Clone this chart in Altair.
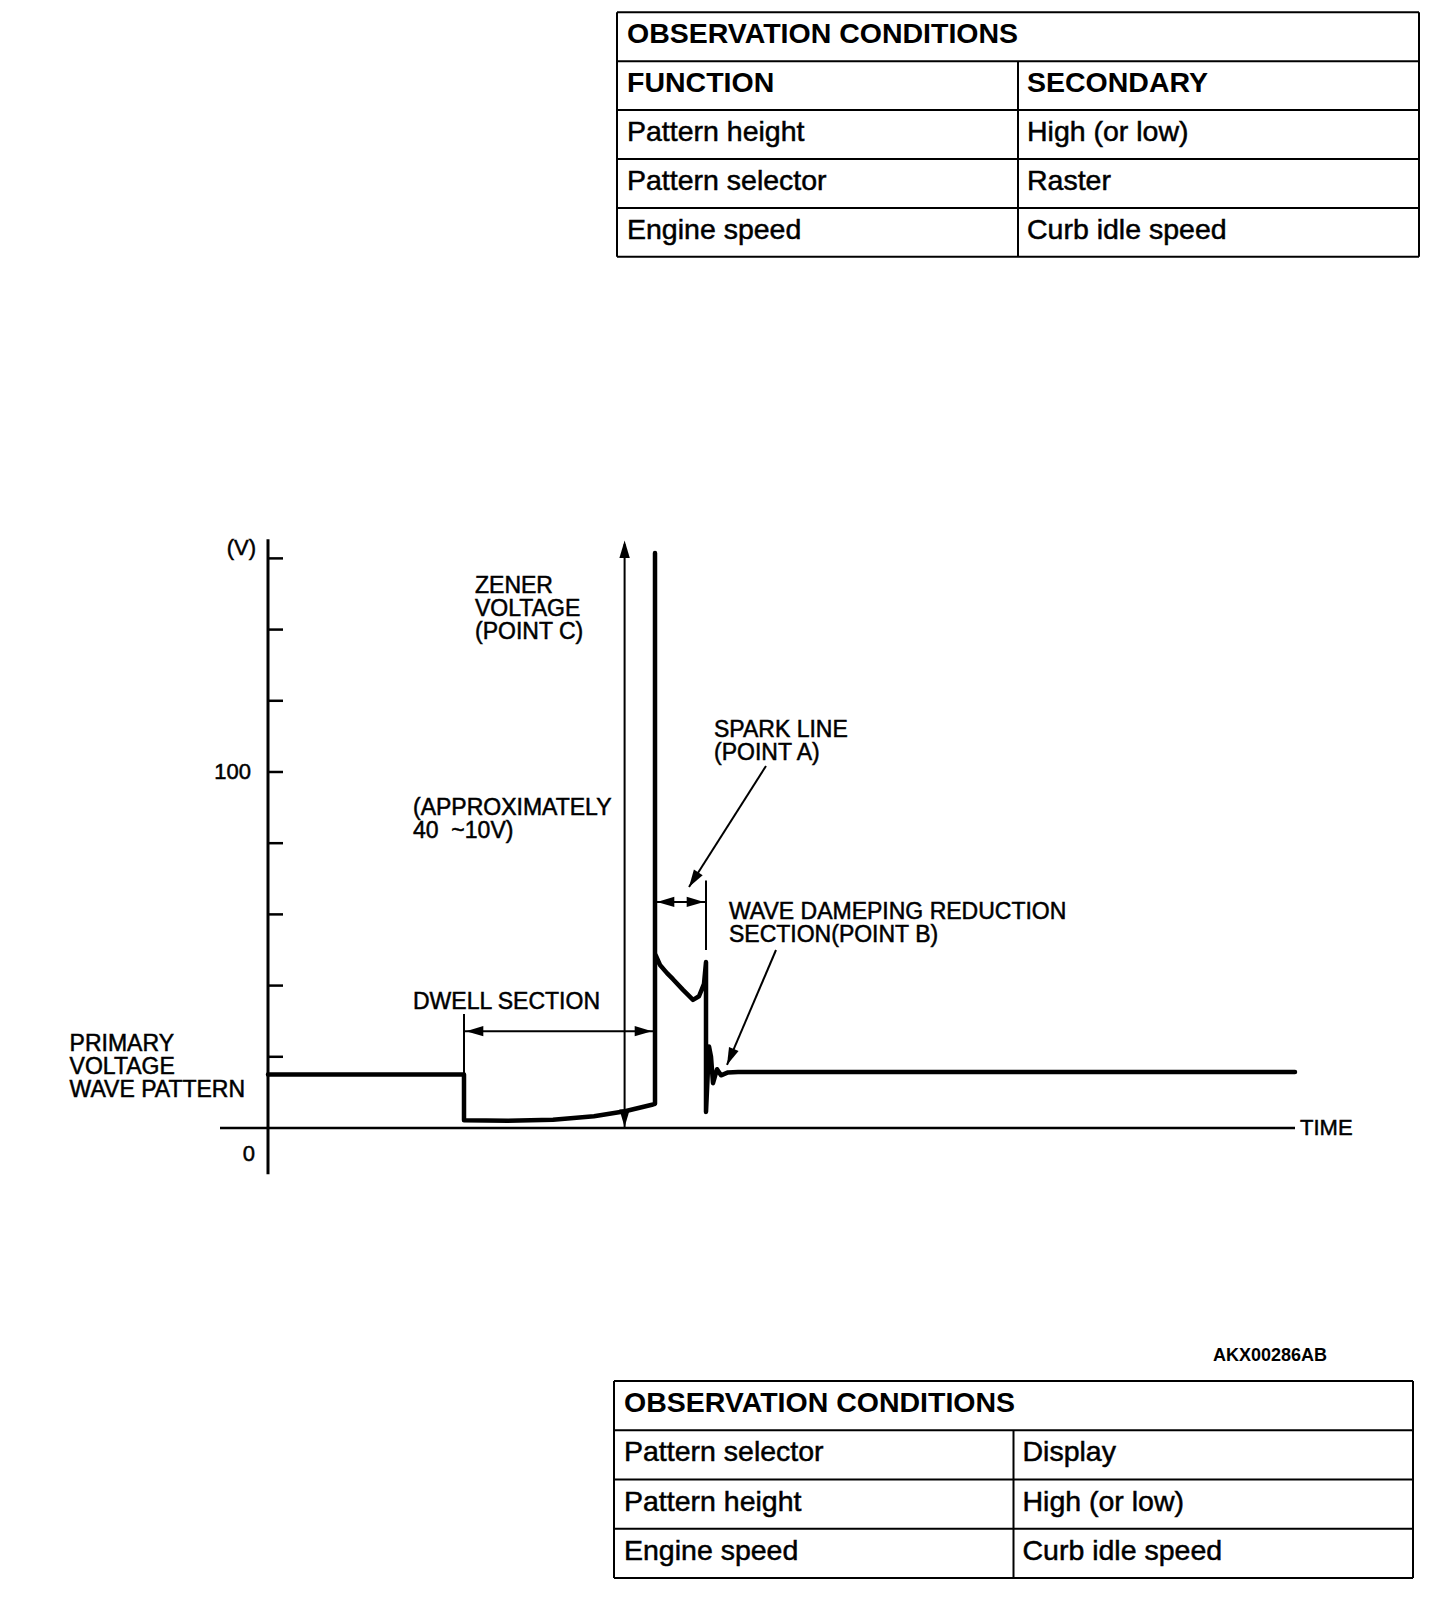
import altair as alt
import numpy as np
import pandas as pd

FONT = "Liberation Sans"

# ---------------- waveform (time in arbitrary units, voltage in V) ----------------
wave_t = [0, 19.6, 19.6, 24.0, 28.5, 32.6, 35.7, 38.5, 38.7, 38.7, 38.7, 39.2, 39.9,
          40.5, 41.5, 42.5, 43.1, 43.6, 43.8, 43.8, 44.1, 44.3, 44.5, 44.9, 45.3,
          46.0, 47.0, 102.7]
wave_v = [15.0, 15.0, 2.2, 2.0, 2.3, 3.3, 4.7, 6.6, 6.8, 161.5, 49.0, 45.8, 43.5,
          41.8, 38.8, 36.0, 37.0, 40.5, 46.6, 4.5, 22.9, 20.0, 12.6, 16.5, 14.8,
          15.6, 15.7, 15.7]

tick_v = [20, 40, 60, 80, 100, 120, 140, 160]

# axis labels (right aligned)
lab_text = ["(V)", "100", "0"]
lab_t = [-1.2, -1.7, -1.3]
lab_v = [163.0, 100.0, -7.3]

# annotation text blocks (top-left anchored)
note_text = ["PRIMARY\nVOLTAGE\nWAVE PATTERN", "ZENER\nVOLTAGE\n(POINT C)",
             "(APPROXIMATELY\n40 \u00a0~10V)", "SPARK LINE\n(POINT A)",
             "WAVE DAMEPING REDUCTION\nSECTION(POINT B)", "DWELL SECTION"]
note_t = [-19.84, 20.7, 14.5, 44.6, 46.1, 14.5]
note_v = [26.7, 155.3, 93.0, 114.9, 63.8, 38.5]

time_label = "TIME"
time_t, time_v = 103.2, 0.0
code_label = "AKX00286AB"
code_t, code_v = 105.9, -64.0

# thin annotation segments
seg_t = [35.66, 19.6, 19.6, 38.7, 43.8, 49.8, 50.8]
seg_t2 = [35.66, 38.5, 19.6, 43.8, 43.8, 42.1, 45.9]
seg_v = [0.0, 27.2, 15.0, 63.5, 50.0, 101.7, 50.0]
seg_v2 = [164.0, 27.2, 32.0, 63.5, 69.5, 67.7, 17.7]

# arrowheads: tip point and a point on the shaft behind it
arr_tip_t = [35.66, 35.66, 19.8, 38.4, 38.9, 43.6, 42.1, 45.9]
arr_tip_v = [165.0, 0.3, 27.2, 27.2, 63.5, 63.5, 67.7, 17.7]
arr_from_t = [35.66, 35.66, 25.0, 30.0, 41.0, 41.0, 49.8, 50.8]
arr_from_v = [100.0, 10.0, 27.2, 27.2, 63.5, 63.5, 101.7, 50.0]

# ---------------- tables ----------------
top_left = ["OBSERVATION CONDITIONS", "FUNCTION", "Pattern height", "Pattern selector", "Engine speed"]
top_right = ["", "SECONDARY", "High (or low)", "Raster", "Curb idle speed"]
top_bold_rows = 2
bot_left = ["OBSERVATION CONDITIONS", "Pattern selector", "Pattern height", "Engine speed"]
bot_right = ["", "Display", "High (or low)", "Curb idle speed"]
bot_bold_rows = 1

# ---------------- layout ----------------
W = 1440
H1, H2, H3 = 292, 1070, 218
T_DOM = [-26.0, 118.0]
V_DOM = [-67.98, 232.58]
PX_T = W / (T_DOM[1] - T_DOM[0])
PX_V = H2 / (V_DOM[1] - V_DOM[0])

X = alt.X("t:Q", scale=alt.Scale(domain=T_DOM, nice=False, zero=False), axis=None)
Y = alt.Y("v:Q", scale=alt.Scale(domain=V_DOM, nice=False, zero=False), axis=None)

wave_df = pd.DataFrame({"t": wave_t, "v": wave_v, "i": range(len(wave_t))})
wave = alt.Chart(wave_df).mark_line(color="black", strokeWidth=4.5, strokeJoin="round",
                                    strokeCap="round").encode(x=X, y=Y, order="i:Q")

axes_df = pd.DataFrame({"t": [0.0, -4.8], "t2": [0.0, 102.7], "v": [-13.0, 0.0], "v2": [165.4, 0.0],
                        "w": [3.0, 2.5]})
axes = alt.Chart(axes_df).mark_rule(color="black").encode(
    x=X, x2="t2:Q", y=Y, y2="v2:Q", strokeWidth=alt.StrokeWidth("w:Q", scale=None))

ticks_df = pd.DataFrame({"t": [0.0] * len(tick_v), "t2": [1.5] * len(tick_v), "v": tick_v})
ticks = alt.Chart(ticks_df).mark_rule(color="black", strokeWidth=2.5).encode(x=X, x2="t2:Q", y=Y)

seg_df = pd.DataFrame({"t": seg_t, "t2": seg_t2, "v": seg_v, "v2": seg_v2})
segs = alt.Chart(seg_df).mark_rule(color="black", strokeWidth=2).encode(x=X, x2="t2:Q", y=Y, y2="v2:Q")

dx = (np.array(arr_tip_t) - np.array(arr_from_t)) * PX_T
dy = -(np.array(arr_tip_v) - np.array(arr_from_v)) * PX_V
ang = (np.degrees(np.arctan2(dx, -dy)) + 360) % 360
arr_df = pd.DataFrame({"t": arr_tip_t, "v": arr_tip_v, "a": ang})
arrows = alt.Chart(arr_df).mark_point(shape="M0,0L0.6,2L-0.6,2Z", filled=True, color="black",
                                      opacity=1, size=300, strokeWidth=0).encode(
    x=X, y=Y, angle=alt.Angle("a:Q", scale=None))

TXT = dict(font=FONT, color="black", stroke="black", strokeWidth=0.5)

lab_df = pd.DataFrame({"t": lab_t, "v": lab_v, "txt": lab_text})
labels = alt.Chart(lab_df).mark_text(align="right", baseline="middle", fontSize=22, **TXT).encode(
    x=X, y=Y, text="txt:N")

note_df = pd.DataFrame({"t": note_t, "v": note_v, "txt": note_text})
notes = alt.Chart(note_df).mark_text(align="left", baseline="top", fontSize=23,
                                     lineHeight=23, lineBreak="\n", **TXT).encode(
    x=X, y=Y, text="txt:N")

time_df = pd.DataFrame({"t": [time_t], "v": [time_v], "txt": [time_label]})
timel = alt.Chart(time_df).mark_text(align="left", baseline="middle", fontSize=22, **TXT).encode(
    x=X, y=Y, text="txt:N")

code_df = pd.DataFrame({"t": [code_t], "v": [code_v], "txt": [code_label]})
codel = alt.Chart(code_df).mark_text(align="right", baseline="middle", font=FONT, fontSize=18,
                                     fontWeight="bold", color="black").encode(x=X, y=Y, text="txt:N")

panel2 = alt.layer(axes, ticks, segs, wave, arrows, labels, notes, timel, codel).properties(
    width=W, height=H2)


def make_table(left, right, n_bold, left_px, right_px, top_px, row_px, height):
    n = len(left)
    span = right_px - left_px
    c_lo = -left_px / span
    c_dom = [c_lo, c_lo + W / span]
    r_lo = -top_px / row_px
    r_dom = [r_lo, r_lo + height / row_px]
    CX = alt.X("c:Q", scale=alt.Scale(domain=c_dom, nice=False, zero=False), axis=None)
    RY = alt.Y("r:Q", scale=alt.Scale(domain=r_dom, nice=False, zero=False, reverse=True), axis=None)
    rows = []
    for r in range(n + 1):
        rows.append({"c": 0.0, "c2": 1.0, "r": r, "r2": r})
    rows.append({"c": 0.0, "c2": 0.0, "r": 0, "r2": n})
    rows.append({"c": 1.0, "c2": 1.0, "r": 0, "r2": n})
    rows.append({"c": 0.5, "c2": 0.5, "r": 1, "r2": n})
    lines = alt.Chart(pd.DataFrame(rows)).mark_rule(color="black", strokeWidth=2).encode(
        x=CX, x2="c2:Q", y=RY, y2="r2:Q")
    pad_l = 10 / span
    pad_r = 0.5 + 9 / span
    txt = []
    for i in range(n):
        w = "bold" if i < n_bold else "normal"
        txt.append({"c": pad_l, "r": i + 0.45, "txt": left[i], "w": w})
        if right[i]:
            txt.append({"c": pad_r, "r": i + 0.45, "txt": right[i], "w": w})
    tdf = pd.DataFrame(txt)
    bold = alt.Chart(tdf[tdf.w == "bold"]).mark_text(
        align="left", baseline="middle", font=FONT, fontSize=28.5, fontWeight="bold",
        color="black").encode(x=CX, y=RY, text="txt:N")
    norm = alt.Chart(tdf[tdf.w == "normal"]).mark_text(
        align="left", baseline="middle", fontSize=28.5, **TXT).encode(
        x=CX, y=RY, text="txt:N")
    return alt.layer(lines, bold, norm).properties(width=W, height=height)


panel1 = make_table(top_left, top_right, top_bold_rows, 609, 1411, 4.3, 48.9, H1)
panel3 = make_table(bot_left, bot_right, bot_bold_rows, 606, 1405, 11, 49.25, H3)

chart = alt.vconcat(panel1, panel2, panel3, spacing=0, bounds="flush").properties(
    padding=0, background="white").configure_view(stroke=None)

chart.save("out.html", embed_options={"renderer": "svg", "actions": False})
